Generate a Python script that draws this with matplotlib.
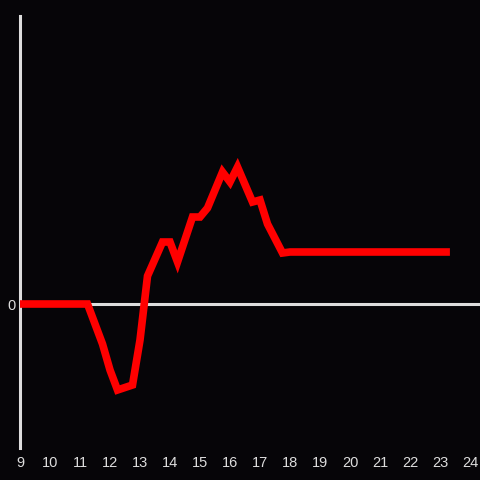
"""Red line over a zero baseline, dark theme."""

import matplotlib
matplotlib.use("Agg")
import matplotlib.pyplot as plt

# hour of day and value (arbitrary units)
hours = [9.0, 11.25, 11.75, 12.0, 12.25, 12.75, 13.0, 13.25, 13.75, 14.0,
         14.25, 14.75, 15.0, 15.25, 15.75, 16.0, 16.25, 16.75, 17.0, 17.25,
         17.75, 18.0, 23.33]
values = [0, 0, -40, -66, -86, -81, -36, 28, 62, 62,
          42, 87, 87, 96, 132, 122, 137, 102, 104, 80,
          51, 52, 52]
xticks = list(range(9, 25))

BG = "#060508"
FG = "#dddddd"

fig = plt.figure(figsize=(4.8, 4.8), dpi=100, facecolor=BG)
ax = fig.add_axes([20 / 480, 32 / 480, 460 / 480, 432 / 480], facecolor=BG)

ax.axhline(0, color=FG, lw=2.2, zorder=1)
ax.plot(hours, values, color="#ff0000", lw=5.5, solid_joinstyle="miter",
        solid_capstyle="butt", zorder=3)

ax.set_xlim(9, 24.333)
ax.set_ylim(-144, 288)

for s in ["top", "right", "bottom"]:
    ax.spines[s].set_visible(False)
ax.spines["left"].set_color(FG)
ax.spines["left"].set_linewidth(2.2)

ax.set_xticks(xticks)
ax.set_xticklabels([str(t) for t in xticks])
ax.set_yticks([0])
ax.set_yticklabels(["0"])
ax.tick_params(axis="both", length=0, colors=FG, labelsize=10.5)
ax.tick_params(axis="x", pad=6)
ax.tick_params(axis="y", pad=3)
for lab in ax.get_xticklabels() + ax.get_yticklabels():
    lab.set_family("Liberation Sans")

fig.savefig("out.png", dpi=100, facecolor=BG)
